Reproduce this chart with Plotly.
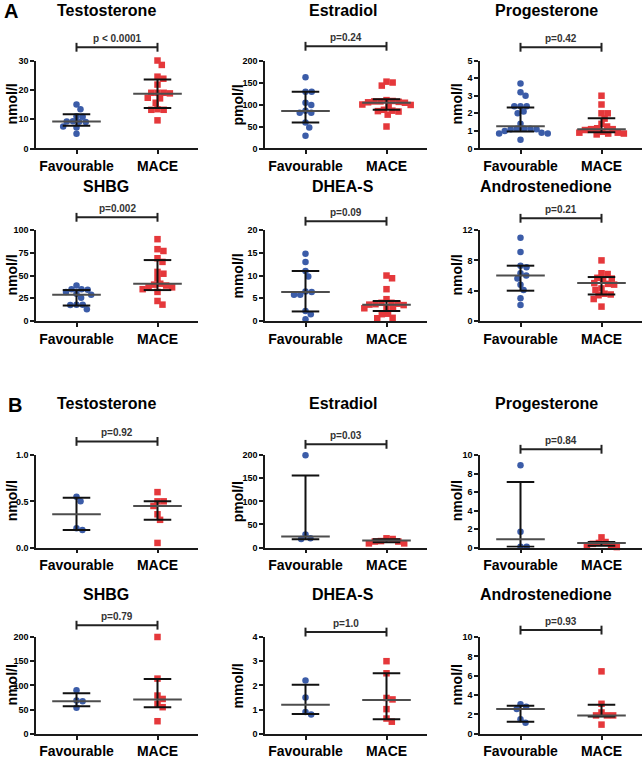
import plotly.graph_objects as go

W, H = 644, 759

# ---------------- data ----------------
categories = ["Favourable", "MACE"]
titles = ["Testosterone", "Estradiol", "Progesterone", "SHBG", "DHEA-S", "Androstenedione"]
units = ["nmol/l", "pmol/l", "nmol/l", "nmol/l", "mmol/l", "nmol/l"]

p_A = ["p < 0.0001", "p=0.24", "p=0.42", "p=0.002", "p=0.09", "p=0.21"]
p_B = ["p=0.92", "p=0.03", "p=0.84", "p=0.79", "p=1.0", "p=0.93"]

ymax_A = [30, 200, 5, 100, 20, 12]
ystep_A = [10, 50, 1, 25, 5, 4]
ymax_B = [1.0, 200, 10, 200, 4, 10]
ystep_B = [0.5, 50, 2, 50, 1, 2]

# Panel A values
fav_A_testosterone = [15.0, 13.4, 11.0, 10.8, 9.3, 9.2, 9.1, 9.0, 7.5, 7.2, 5.0]
mace_A_testosterone = [30.0, 28.5, 24.5, 23.8, 21.8, 19.0, 19.0, 18.8, 19.0, 17.3, 17.1, 15.6,
                       13.4, 13.2, 13.2, 9.6]
fav_A_estradiol = [162, 129, 129, 104, 99, 86, 81, 81, 59, 48, 29]
mace_A_estradiol = [152, 150, 143, 110, 108, 107, 107, 106, 105, 104, 100, 99, 97, 88, 86, 85,
                    84, 77, 50]
fav_A_progesterone = [3.7, 3.2, 3.0, 2.4, 2.4, 2.4, 2.1, 2.0, 1.4, 1.12, 1.1, 1.12, 1.1, 1.12,
                      1.0, 0.9, 0.85, 0.85, 0.5]
mace_A_progesterone = [3.0, 2.5, 2.0, 2.0, 1.7, 1.4, 1.25, 1.15, 1.1, 1.1, 1.05, 0.95, 0.9,
                       0.9, 0.85, 0.85, 0.8]
fav_A_shbg = [39, 35, 35, 34.5, 32, 30, 29, 25.5, 18, 18, 17.5, 13]
mace_A_shbg = [90, 79, 77, 69, 65, 54, 52, 47, 41, 40, 39, 37, 37, 35, 32, 22, 18]
fav_A_dheas = [14.8, 13.0, 11.0, 9.8, 6.5, 6.4, 5.8, 5.8, 2.2, 1.5, 0.4]
mace_A_dheas = [10.0, 9.4, 7.0, 4.8, 4.0, 4.0, 3.8, 3.7, 3.6, 3.5, 2.9, 2.8, 2.7, 1.6, 1.5, 0.7, 0.6]
fav_A_andro = [11.0, 9.1, 7.3, 7.1, 6.3, 6.0, 5.6, 4.8, 4.1, 3.0, 2.1]
mace_A_andro = [8.0, 6.3, 6.2, 5.7, 5.6, 5.4, 5.0, 4.9, 4.8, 4.3, 4.1, 3.6, 3.5, 3.4, 2.9, 1.9]

# Panel B values
fav_B_testosterone = [0.55, 0.50, 0.21, 0.19]
mace_B_testosterone = [0.60, 0.50, 0.50, 0.45, 0.36, 0.30, 0.05]
fav_B_estradiol = [200, 28, 20, 18.5]
mace_B_estradiol = [20, 18.5, 14, 13, 13, 9, 9]
fav_B_progesterone = [8.9, 1.7, 0.1, 0.1]
mace_B_progesterone = [1.1, 0.6, 0.5, 0.4, 0.3, 0.2, 0.05]
fav_B_shbg = [90, 69, 67, 54]
mace_B_shbg = [200, 114, 79, 72, 62, 55, 26]
fav_B_dheas = [2.2, 1.5, 0.9, 0.8]
mace_B_dheas = [3.0, 2.5, 1.48, 1.42, 1.02, 0.63, 0.5]
fav_B_andro = [3.05, 2.8, 2.55, 1.5, 1.13]
mace_B_andro = [6.45, 3.1, 2.2, 1.9, 1.9, 1.9, 0.95]

# median, Q1, Q3 per group (Favourable, MACE)
stats_A_fav = [(9.2, 7.8, 11.7), (85, 59, 129), (1.26, 0.97, 2.33), (29, 17, 34), (6.4, 2.1, 11.0), (6.0, 4.0, 7.3)]
stats_A_mace = [(18.7, 13.8, 23.5), (104, 88, 112), (1.1, 0.93, 1.72), (41, 34, 67), (3.6, 2.2, 4.4), (5.0, 3.5, 5.8)]
stats_B_fav = [(0.36, 0.19, 0.54), (24, 18, 156), (0.9, 0.1, 7.1), (67, 57, 84), (1.2, 0.82, 2.03), (2.55, 1.25, 2.9)]
stats_B_mace = [(0.45, 0.30, 0.50), (15, 11.5, 18), (0.5, 0.2, 0.6), (71, 55, 113), (1.4, 0.6, 2.5), (1.9, 1.8, 3.0)]

fav_A = [fav_A_testosterone, fav_A_estradiol, fav_A_progesterone, fav_A_shbg, fav_A_dheas, fav_A_andro]
mace_A = [mace_A_testosterone, mace_A_estradiol, mace_A_progesterone, mace_A_shbg, mace_A_dheas, mace_A_andro]
fav_B = [fav_B_testosterone, fav_B_estradiol, fav_B_progesterone, fav_B_shbg, fav_B_dheas, fav_B_andro]
mace_B = [mace_B_testosterone, mace_B_estradiol, mace_B_progesterone, mace_B_shbg, mace_B_dheas, mace_B_andro]

# ---------------- layout geometry (pixels) ----------------
col_px = [(36, 198), (265, 427), (480, 642)]
row_px = [(56.5, 146), (229, 321.5), (458, 552), (643, 741.5)]   # (top tick, zero)
bracket_px = [[43, 42, 43], [216, 220, 217], [444, 447, 452], [631, 638, 636]]
title_y_px = [6, 185, 405, 600]
title_x_px = [106, 343, 546]
ylabel_x_px = [12, 238, 457]

BLUE = "#3B5CA8"
RED = "#E5383B"
INK = "#1a1a1a"
FONT = "Liberation Sans, Arial, sans-serif"


def swarm(vals, ypx, xpx, d=6.2):
    order = sorted(range(len(vals)), key=lambda i: -vals[i])
    placed = []
    off = [0.0] * len(vals)
    for i in order:
        y = vals[i] * ypx
        cands = [0.0]
        for (px, py) in placed:
            dy = abs(py - y)
            if dy < d:
                dx = (d * d - dy * dy) ** 0.5
                cands += [px + dx, px - dx]
        cands.sort(key=lambda c: (round(abs(c), 3), -c))
        chosen = 0.0
        for c in cands:
            if all((c - px) ** 2 + (y - py) ** 2 >= d * d - 1e-6 for px, py in placed):
                chosen = c
                break
        placed.append((chosen, y))
        off[i] = chosen / xpx
    return off


fig = go.Figure()
layout = dict(width=W, height=H, margin=dict(l=0, r=0, t=0, b=0),
              paper_bgcolor="white", plot_bgcolor="white", showlegend=False,
              font=dict(family=FONT, color="black"))
annotations = []
shapes = []

for i in range(12):
    r, c = divmod(i, 3)
    k = i + 1
    h = (r % 2) * 3 + c
    isA = r < 2
    ymax = (ymax_A if isA else ymax_B)[h]
    ystep = (ystep_A if isA else ystep_B)[h]
    fav = (fav_A if isA else fav_B)[h]
    mace = (mace_A if isA else mace_B)[h]
    sf = (stats_A_fav if isA else stats_B_fav)[h]
    sm = (stats_A_mace if isA else stats_B_mace)[h]
    ptxt = (p_A if isA else p_B)[h]

    x0, x1 = col_px[c]
    top, zero = row_px[r]
    xr = "x" if k == 1 else f"x{k}"
    yr = "y" if k == 1 else f"y{k}"
    xpx = (x1 - x0) / 2.0
    ypx = (zero - top) / ymax

    nt = int(round(ymax / ystep))
    tv = [j * ystep for j in range(nt + 1)]
    tt = [f"{v:.1f}" if ystep < 1 else f"{v:g}" for v in tv]

    layout["xaxis" if k == 1 else f"xaxis{k}"] = dict(
        domain=[x0 / W, x1 / W], range=[0.5, 2.5], anchor=yr,
        tickvals=[1, 2], ticktext=categories, showline=True, linecolor=INK, linewidth=1.5,
        ticks="outside", ticklen=4, tickwidth=1.5, tickcolor=INK, showgrid=False, zeroline=False,
        tickfont=dict(family=FONT, size=14, color="black", weight="bold"), fixedrange=True)
    layout["yaxis" if k == 1 else f"yaxis{k}"] = dict(
        domain=[1 - zero / H, 1 - top / H], range=[0, ymax], anchor=xr,
        tickvals=tv, ticktext=tt, showline=True, linecolor=INK, linewidth=1.5,
        ticks="outside", ticklen=4, tickwidth=1.5, tickcolor=INK, showgrid=False, zeroline=False,
        tickfont=dict(family=FONT, size=9, color="black", weight="bold"), fixedrange=True)

    of = swarm(fav, ypx, xpx)
    om = swarm(mace, ypx, xpx)
    fig.add_trace(go.Scatter(x=[1 + o for o in of], y=fav, mode="markers", xaxis=xr, yaxis=yr,
                             marker=dict(symbol="circle", size=6.5, color=BLUE), cliponaxis=False,
                             hoverinfo="skip"))
    fig.add_trace(go.Scatter(x=[2 + o for o in om], y=mace, mode="markers", xaxis=xr, yaxis=yr,
                             marker=dict(symbol="square", size=6.5, color=RED), cliponaxis=False,
                             hoverinfo="skip"))

    mx, my, wx, wy = [], [], [], []
    for pos, (med, q1, q3) in ((1, sf), (2, sm)):
        mx += [pos - 0.3, pos + 0.3, None]
        my += [med, med, None]
        wx += [pos, pos, None, pos - 0.17, pos + 0.17, None, pos - 0.17, pos + 0.17, None]
        wy += [q1, q3, None, q1, q1, None, q3, q3, None]
    fig.add_trace(go.Scatter(x=wx, y=wy, mode="lines", xaxis=xr, yaxis=yr,
                             line=dict(color="#111111", width=2), hoverinfo="skip"))
    fig.add_trace(go.Scatter(x=mx, y=my, mode="lines", xaxis=xr, yaxis=yr,
                             line=dict(color="#4d4d4d", width=2), hoverinfo="skip"))

    # significance bracket
    b = bracket_px[r][c]
    shapes.append(dict(type="line", xref=xr, yref="paper", x0=1, x1=2, y0=1 - b / H, y1=1 - b / H,
                       line=dict(color="#222222", width=2)))
    for xb in (1, 2):
        shapes.append(dict(type="line", xref=xr, yref="paper", x0=xb, x1=xb,
                           y0=1 - (b - 4.5) / H, y1=1 - (b + 4.5) / H,
                           line=dict(color="#222222", width=2)))
    annotations.append(dict(text=ptxt, xref=xr, yref="paper", x=1.5, y=1 - (b - 1.5) / H,
                            xanchor="center", yanchor="bottom", showarrow=False,
                            font=dict(family=FONT, size=10, color="#333333", weight="bold")))
    # title
    annotations.append(dict(text=titles[h], xref="paper", yref="paper", x=title_x_px[c] / W,
                            y=1 - title_y_px[r] / H, xanchor="center", yanchor="middle",
                            showarrow=False,
                            font=dict(family=FONT, size=16, color="black", weight="bold")))
    # y label
    annotations.append(dict(text=units[h], xref="paper", yref="paper", x=ylabel_x_px[c] / W,
                            y=1 - (top + zero) / 2 / H, xanchor="center", yanchor="middle",
                            textangle=-90, showarrow=False,
                            font=dict(family=FONT, size=14, color="black", weight="bold")))

annotations.append(dict(text="A", xref="paper", yref="paper", x=11 / W, y=1 - 6 / H,
                        xanchor="center", yanchor="middle", showarrow=False,
                        font=dict(family=FONT, size=20, color="black", weight="bold")))
annotations.append(dict(text="B", xref="paper", yref="paper", x=14.5 / W, y=1 - 407 / H,
                        xanchor="center", yanchor="middle", showarrow=False,
                        font=dict(family=FONT, size=20, color="black", weight="bold")))

layout["annotations"] = annotations
layout["shapes"] = shapes
fig.update_layout(**layout)
fig.write_html("out.html", config={"displayModeBar": False},
               post_script="document.body.style.margin='0';document.body.style.padding='0';"
                           "document.body.style.overflow='hidden';")
